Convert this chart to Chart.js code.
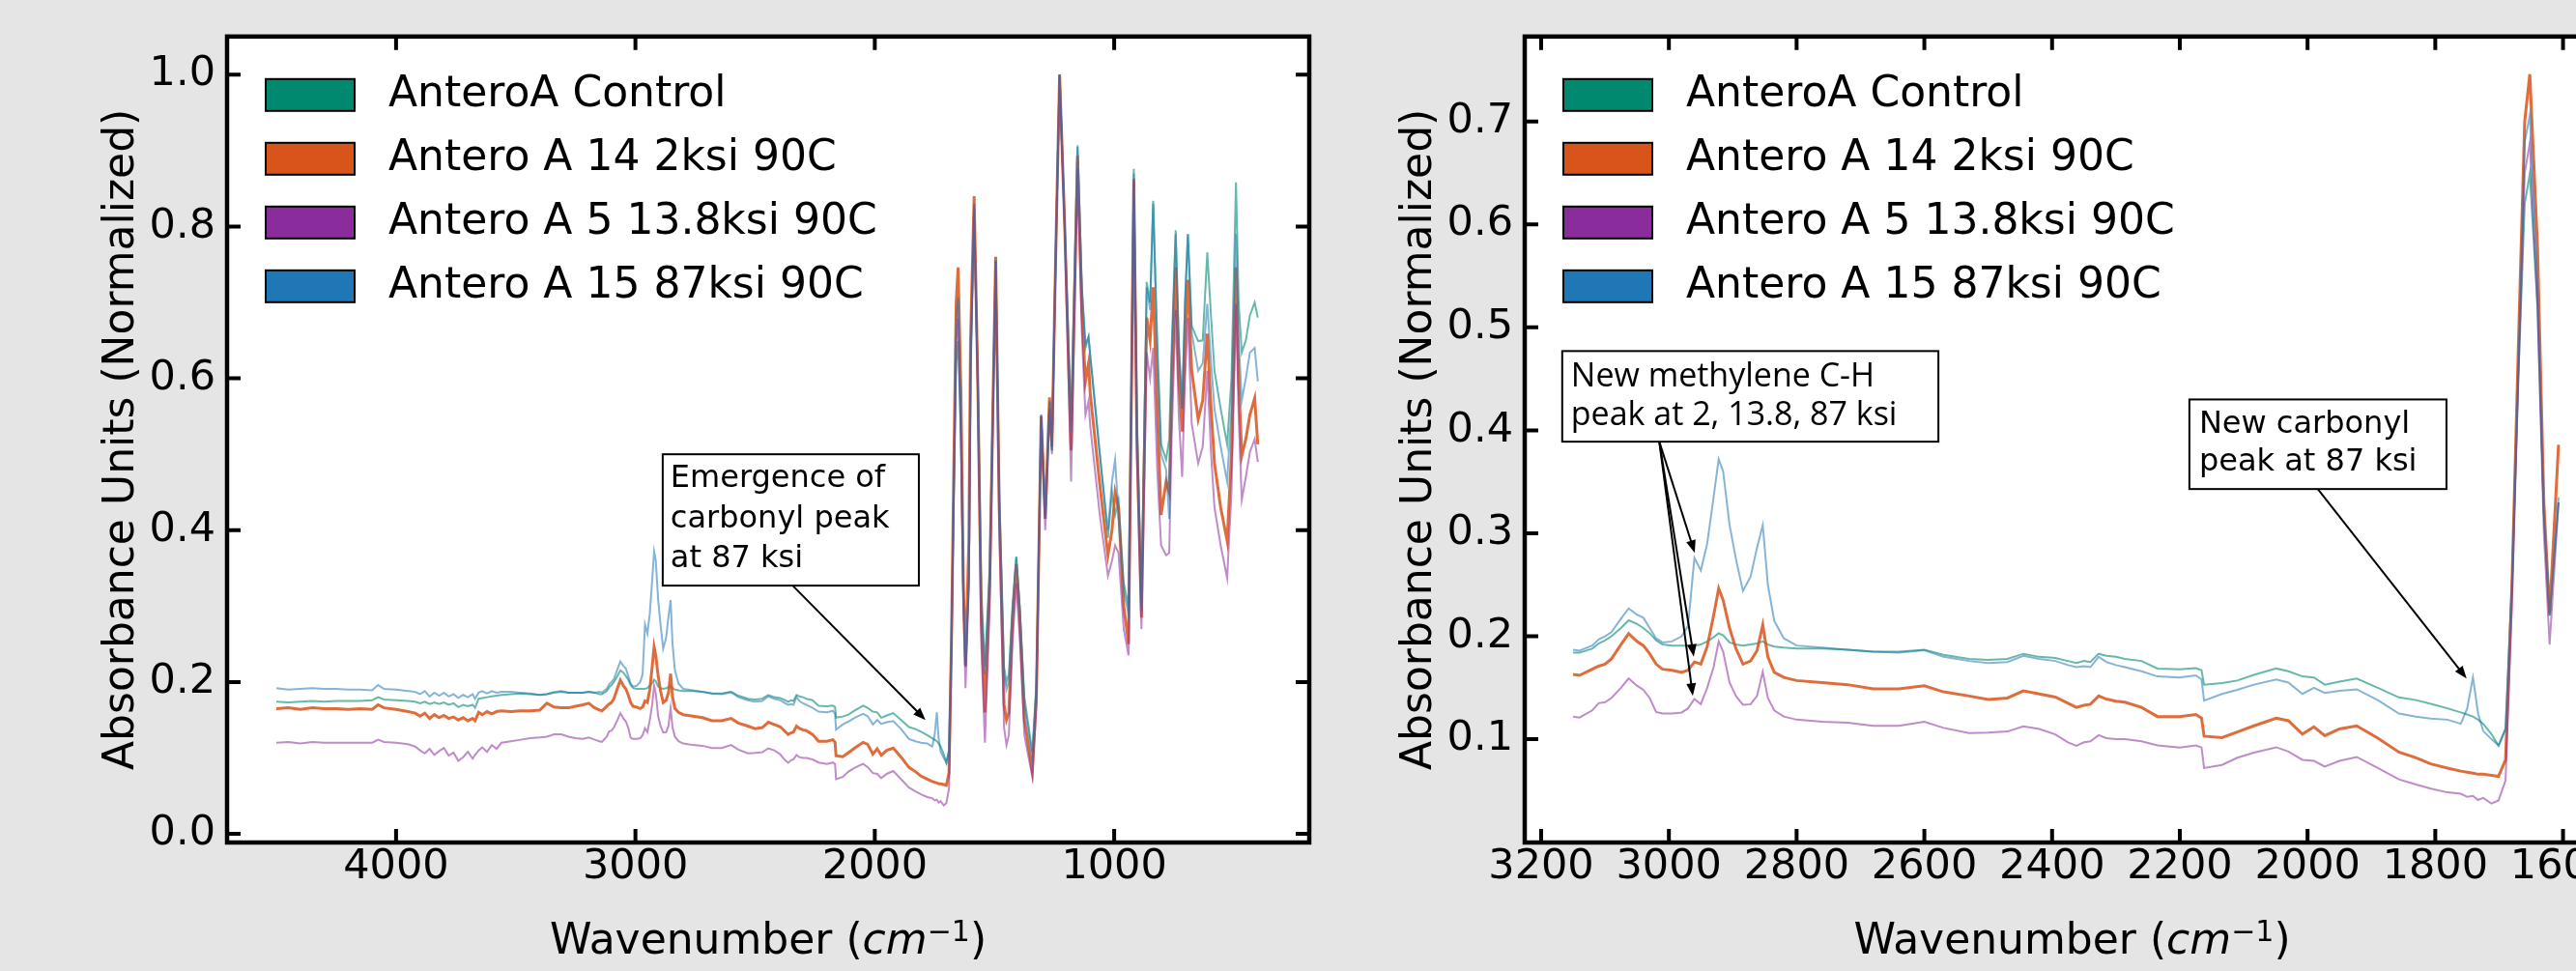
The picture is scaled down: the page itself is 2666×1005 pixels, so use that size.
<!DOCTYPE html>
<html>
<head>
<meta charset="utf-8">
<script src="https://cdn.jsdelivr.net/npm/chart.js@4"></script>
<style>
  html, body { margin: 0; padding: 0; background: #e5e5e5; overflow: hidden; width: 2666px; height: 1005px; }
  .panel { position: absolute; top: 0; height: 1005px; width: 1400px; }
  #left { left: 0; }
  #right { left: 1400px; }
</style>
</head>
<body>
<div class="panel" id="left"><canvas id="leftChart"></canvas></div>
<div class="panel" id="right"><canvas id="rightChart"></canvas></div>
<script>
// FTIR spectra, values
const wavenumber = [
  4500, 4450, 4400, 4350, 4300, 4250, 4200, 4150, 4100, 4075, 4050, 4000,
  3950, 3920, 3900, 3880, 3860, 3840, 3820, 3800, 3780, 3760, 3740, 3720, 3700, 3680, 3670, 3655, 3640, 3620, 3600, 3580, 3560, 3520, 3480, 3440, 3400, 3370, 3340, 3310, 3280, 3250, 3220, 3195, 3170, 3150,
  3140, 3120, 3110, 3100, 3090, 3075, 3063, 3050, 3040, 3030, 3020, 3010, 2995, 2980, 2970, 2960, 2950, 2940, 2930, 2922, 2915, 2905, 2895, 2884, 2872, 2862, 2853, 2845, 2835, 2820, 2800,
  2760, 2720, 2680, 2640, 2600, 2570, 2530, 2500, 2470, 2445, 2420, 2395, 2375, 2362, 2350, 2340, 2327, 2315, 2300, 2286, 2260, 2235, 2200, 2175, 2166, 2162, 2134, 2110, 2084, 2049, 2030, 2008, 1990, 1973, 1950, 1923, 1890, 1857, 1830, 1807, 1781, 1760, 1750, 1741, 1733, 1725, 1712, 1701,
  1690, 1680, 1670, 1660, 1652, 1640, 1630, 1621, 1607, 1600, 1585, 1570, 1555, 1540, 1520, 1495, 1480, 1460, 1450, 1440, 1425, 1409, 1395, 1375, 1342, 1325, 1305, 1288, 1270, 1260, 1245, 1228, 1207, 1180, 1153, 1135, 1120, 1107, 1100, 1060, 1026, 1009, 996, 982, 960, 940, 928, 918, 905, 886, 864, 850, 837, 820, 804, 783, 770, 760, 743, 730, 716, 704, 692, 676, 649, 630, 611, 595, 581, 555, 528, 510, 491, 480, 467, 450, 433, 413, 400
];

const controlA = [
  .174, .173, .174, .175, .174, .175, .175, .175, .176, .180, .177, .176,
  .175, .174, .172, .174, .171, .173, .171, .173, .170, .172, .167, .170, .168, .170, .166, .178, .179, .180, .181, .182, .183, .184, .185, .184, .183, .184, .186, .187, .186, .186, .186, .187, .186, .184,
  .184, .188, .193, .196, .200, .208, .2155, .212, .208, .203, .196, .192, .191, .191, .191, .191, .192, .195, .199, .203, .201, .194, .192, .191, .192, .193, .195, .192, .190, .189, .188,
  .188, .187, .185, .185, .187, .182, .178, .177, .178, .183, .180, .179, .176, .174, .176, .175, .183, .181, .180, .178, .176, .1687, .168, .169, .167, .153, .1545, .157, .1625, .1687, .166, .161, .160, .153, .156, .159, .150, .1406, .138, .1344, .130, .126, .124, .122, .119, .115, .105, .0937,
  .110, .250, .450, .620, .649, .520, .320, .220, .330, .600, .820, .600, .320, .220, .350, .755, .450, .220, .200, .210, .300, .365, .300, .180, .107, .200, .550, .420, .570, .505, .750, 1.000, .805, .540, .905, .720, .640, .655, .630, .500, .390, .450, .420, .440, .330, .300, .600, .876, .550, .300, .727, .700, .834, .650, .513, .493, .520, .640, .795, .650, .560, .700, .790, .669, .649, .650, .766, .680, .610, .560, .513, .600, .858, .700, .634, .650, .683, .700, .680
];

const antero14 = [
  .165, .166, .164, .166, .165, .165, .164, .165, .164, .170, .166, .164,
  .161, .159, .155, .159, .152, .157, .153, .156, .152, .154, .150, .153, .149, .152, .149, .160, .157, .161, .158, .161, .162, .161, .162, .162, .163, .172, .167, .166, .166, .168, .170, .172, .166, .163,
  .162, .168, .171, .173, .178, .192, .2025, .195, .191, .183, .173, .168, .167, .165, .167, .175, .173, .190, .220, .2465, .235, .208, .188, .173, .176, .186, .211, .180, .165, .160, .157,
  .155, .153, .149, .149, .152, .146, .142, .1385, .140, .147, .144, .141, .135, .131, .133, .134, .142, .139, .137, .136, .131, .122, .122, .124, .1205, .103, .1016, .107, .113, .1205, .118, .105, .112, .1035, .110, .113, .101, .0875, .082, .076, .072, .069, .068, .067, .066, .066, .065, .064,
  .080, .250, .480, .700, .746, .580, .330, .222, .386, .650, .840, .600, .280, .160, .330, .760, .430, .170, .150, .160, .280, .355, .290, .150, .083, .180, .550, .415, .575, .510, .750, 1.000, .805, .505, .893, .690, .596, .620, .580, .460, .367, .400, .450, .430, .300, .250, .580, .863, .520, .285, .680, .650, .720, .560, .420, .464, .450, .580, .746, .600, .530, .650, .730, .610, .546, .571, .659, .560, .488, .430, .386, .500, .746, .600, .498, .520, .552, .574, .513
];

const antero5 = [
  .120, .121, .119, .121, .120, .120, .120, .120, .120, .124, .121, .120,
  .118, .115, .110, .106, .112, .104, .109, .113, .103, .107, .096, .101, .108, .099, .104, .110, .114, .108, .117, .112, .120, .122, .124, .126, .127, .128, .131, .131, .128, .126, .125, .127, .124, .122,
  .121, .128, .135, .136, .140, .150, .159, .152, .148, .140, .1265, .125, .125, .126, .130, .139, .134, .150, .170, .195, .185, .155, .142, .1335, .134, .142, .1655, .140, .128, .122, .119,
  .117, .116, .113, .113, .117, .111, .106, .1065, .1075, .1125, .110, .1047, .097, .0937, .097, .098, .104, .101, .100, .100, .098, .094, .092, .094, .092, .072, .075, .082, .087, .0922, .088, .080, .079, .0734, .079, .0828, .072, .061, .056, .052, .0484, .047, .044, .045, .041, .043, .0375, .0406,
  .060, .230, .450, .650, .679, .520, .300, .192, .330, .620, .830, .590, .250, .120, .300, .755, .400, .140, .117, .130, .250, .330, .260, .130, .075, .170, .552, .400, .560, .500, .750, 1.000, .800, .464, .876, .660, .552, .570, .537, .420, .340, .360, .380, .370, .270, .235, .560, .860, .500, .270, .634, .600, .640, .480, .380, .367, .370, .520, .690, .550, .470, .600, .680, .540, .488, .510, .610, .500, .430, .380, .337, .450, .698, .550, .440, .470, .503, .520, .490
];

const antero15 = [
  .192, .190, .191, .192, .191, .191, .190, .190, .189, .196, .191, .190,
  .188, .187, .184, .188, .181, .186, .182, .186, .181, .184, .179, .183, .180, .184, .178, .186, .188, .185, .188, .186, .187, .187, .186, .185, .183, .184, .187, .188, .186, .186, .186, .187, .186, .187,
  .186, .191, .197, .200, .204, .217, .227, .221, .218, .208, .198, .194, .195, .200, .210, .276, .264, .290, .335, .372, .360, .308, .275, .244, .258, .286, .308, .250, .215, .198, .191,
  .189, .187, .185, .184, .1865, .180, .176, .174, .175, .181, .178, .176, .172, .170, .171, .170, .180, .175, .172, .170, .166, .161, .160, .162, .158, .1375, .144, .148, .153, .158, .155, .144, .150, .145, .147, .1485, .138, .125, .122, .120, .119, .115, .130, .160, .125, .108, .100, .094,
  .110, .250, .460, .680, .706, .540, .320, .220, .335, .610, .825, .600, .300, .210, .340, .755, .440, .210, .190, .200, .290, .365, .300, .170, .100, .190, .552, .415, .570, .505, .750, 1.000, .805, .530, .907, .720, .645, .655, .630, .500, .400, .464, .493, .420, .320, .290, .590, .870, .540, .295, .720, .690, .830, .630, .500, .480, .415, .620, .790, .640, .560, .700, .790, .660, .610, .620, .698, .620, .560, .510, .464, .560, .790, .650, .571, .600, .634, .640, .596
];

const seriesNames = ['AnteroA Control', 'Antero A 14 2ksi 90C', 'Antero A 5 13.8ksi 90C', 'Antero A 15 87ksi 90C'];
const seriesValues = [controlA, antero14, antero5, antero15];

const leftXTicks = [4000, 3000, 2000, 1000];
const leftYTicks = [0.0, 0.2, 0.4, 0.6, 0.8, 1.0];
const rightXTicks = [3200, 3000, 2800, 2600, 2400, 2200, 2000, 1800, 1600];
const rightYTicks = [0.1, 0.2, 0.3, 0.4, 0.5, 0.6, 0.7];
const zoomRange = [1605, 3150];   // wavenumbers shown in the right panel

const patchColors = ['#00896f', '#d9541a', '#8b2c9c', '#2077b5'];
const lineColors = ['rgba(0,137,111,0.6)', 'rgba(217,84,26,0.85)', 'rgba(139,44,156,0.55)', 'rgba(32,119,181,0.55)'];
const lineWidths = [2, 3, 2, 2];

const FONT = 'DejaVu Sans';
Chart.defaults.font.family = FONT;
Chart.defaults.color = '#000';

function makeDatasets(lo, hi) {
  return seriesNames.map((name, i) => ({
    label: name,
    data: wavenumber.map((w, k) => ({ x: w, y: seriesValues[i][k] })).filter(p => p.x >= lo && p.x <= hi),
    borderColor: lineColors[i],
    backgroundColor: patchColors[i],
    borderWidth: lineWidths[i],
    pointRadius: 0,
    tension: 0,
    fill: false,
    order: seriesNames.length - i
  }));
}

// white plot area, black box and inward ticks on all four sides
const frame = {
  id: 'frame',
  beforeDraw(chart) {
    const { ctx, chartArea: a } = chart;
    ctx.save();
    ctx.fillStyle = '#fff';
    ctx.fillRect(a.left, a.top, a.right - a.left, a.bottom - a.top);
    ctx.restore();
  },
  afterDraw(chart) {
    const { ctx, chartArea: a, scales } = chart;
    const len = 14;
    ctx.save();
    ctx.strokeStyle = '#000';
    ctx.lineWidth = 4;
    ctx.beginPath();
    scales.x.ticks.forEach(t => {
      const px = scales.x.getPixelForValue(t.value);
      ctx.moveTo(px, a.bottom); ctx.lineTo(px, a.bottom - len);
      ctx.moveTo(px, a.top); ctx.lineTo(px, a.top + len);
    });
    scales.y.ticks.forEach(t => {
      const py = scales.y.getPixelForValue(t.value);
      ctx.moveTo(a.left, py); ctx.lineTo(a.left + len, py);
      ctx.moveTo(a.right, py); ctx.lineTo(a.right - len, py);
    });
    ctx.stroke();
    ctx.lineWidth = 4.5;
    ctx.strokeRect(a.left, a.top, a.right - a.left, a.bottom - a.top);
    ctx.restore();
  }
};

// legend with filled patches, top-left inside the axes
const patchLegend = {
  id: 'patchLegend',
  afterDatasetsDraw(chart) {
    const { ctx, chartArea: a } = chart;
    ctx.save();
    ctx.font = '44px "' + FONT + '"';
    ctx.textBaseline = 'middle';
    chart.data.datasets.forEach((ds, i) => {
      const x = a.left + 40, y = a.top + 44 + i * 66;
      ctx.fillStyle = ds.backgroundColor;
      ctx.fillRect(x, y, 92, 33);
      ctx.lineWidth = 2;
      ctx.strokeStyle = '#000';
      ctx.strokeRect(x, y, 92, 33);
      ctx.fillStyle = '#000';
      ctx.fillText(ds.label, x + 127, y + 17);
    });
    ctx.restore();
  }
};

// x title with mathtext-like cm^-1
const xTitle = {
  id: 'xTitle',
  afterDraw(chart) {
    const { ctx, chartArea: a } = chart;
    const parts = [
      { t: 'Wavenumber (', f: '44px "' + FONT + '"', dy: 0 },
      { t: 'cm', f: 'italic 44px "' + FONT + '"', dy: 0 },
      { t: '\u22121', f: '30px "' + FONT + '"', dy: -13 },
      { t: ')', f: '44px "' + FONT + '"', dy: 0 }
    ];
    ctx.save();
    ctx.fillStyle = '#000';
    ctx.textBaseline = 'alphabetic';
    let total = 0;
    parts.forEach(p => { ctx.font = p.f; p.w = ctx.measureText(p.t).width; total += p.w; });
    let x = (a.left + a.right) / 2 - total / 2;
    const base = chart.height - 18;
    parts.forEach(p => { ctx.font = p.f; ctx.fillText(p.t, x, base + p.dy); x += p.w; });
    ctx.restore();
  }
};

// boxed notes with arrows, anchored in data coordinates
const notes = {
  id: 'notes',
  afterDatasetsDraw(chart, args, opts) {
    const { ctx, scales: { x, y } } = chart;
    (opts.items || []).forEach(n => {
      const x0 = x.getPixelForValue(n.box[0]), y0 = y.getPixelForValue(n.box[1]);
      const x1 = x.getPixelForValue(n.box[2]), y1 = y.getPixelForValue(n.box[3]);
      ctx.save();
      ctx.strokeStyle = '#000';
      ctx.fillStyle = '#000';
      ctx.lineWidth = 2;
      n.arrows.forEach(([fx, fy, tx, ty]) => {
        const sx = x.getPixelForValue(fx), sy = y.getPixelForValue(fy);
        const ex = x.getPixelForValue(tx), ey = y.getPixelForValue(ty);
        const ang = Math.atan2(ey - sy, ex - sx);
        ctx.beginPath();
        ctx.moveTo(sx, sy);
        ctx.lineTo(ex - 10 * Math.cos(ang), ey - 10 * Math.sin(ang));
        ctx.stroke();
        ctx.beginPath();
        ctx.moveTo(ex, ey);
        ctx.lineTo(ex - 13 * Math.cos(ang) + 5 * Math.sin(ang), ey - 13 * Math.sin(ang) - 5 * Math.cos(ang));
        ctx.lineTo(ex - 13 * Math.cos(ang) - 5 * Math.sin(ang), ey - 13 * Math.sin(ang) + 5 * Math.cos(ang));
        ctx.closePath();
        ctx.fill();
      });
      ctx.fillStyle = '#fff';
      ctx.fillRect(x0, y0, x1 - x0, y1 - y0);
      ctx.strokeRect(x0, y0, x1 - x0, y1 - y0);
      ctx.fillStyle = '#000';
      ctx.font = n.font;
      ctx.textBaseline = 'middle';
      n.lines.forEach((s, k) => ctx.fillText(s, x0 + n.dx, y0 + n.dy + k * n.gap));
      ctx.restore();
    });
  }
};

function makeOptions(cfg) {
  const tickFont = { family: FONT, size: 43 };
  return {
    responsive: true,
    maintainAspectRatio: false,
    animation: false,
    events: [],
    layout: { padding: { top: 37, right: cfg.padRight, bottom: 0, left: 0 } },
    scales: {
      x: {
        type: 'linear', reverse: true, min: cfg.xMin, max: cfg.xMax,
        afterFit: s => { s.height = 133; },
        afterBuildTicks: s => { s.ticks = cfg.xTicks.map(v => ({ value: v })); },
        grid: { display: false, drawTicks: false },
        border: { display: false },
        ticks: { font: tickFont, color: '#000', padding: 0, maxRotation: 0, autoSkip: false, callback: v => String(v) }
      },
      y: {
        type: 'linear', min: cfg.yMin, max: cfg.yMax,
        afterFit: s => { s.width = cfg.yWidth; },
        afterBuildTicks: s => { s.ticks = cfg.yTicks.map(v => ({ value: v })); },
        grid: { display: false, drawTicks: false },
        border: { display: false },
        ticks: { font: tickFont, color: '#000', padding: 12, autoSkip: false, callback: v => v.toFixed(1) },
        title: {
          display: true, text: 'Absorbance Units (Normalized)', color: '#000',
          font: { family: FONT, size: 44 }, padding: { top: cfg.yTitlePad, bottom: 0 }
        }
      }
    },
    plugins: {
      legend: { display: false },
      tooltip: { enabled: false },
      notes: { items: cfg.notes }
    }
  };
}

new Chart(document.getElementById('leftChart'), {
  type: 'line',
  data: { datasets: makeDatasets(0, 5000) },
  options: makeOptions({
    xMin: 185, xMax: 4706, yMin: -0.0114, yMax: 1.0503,
    xTicks: leftXTicks, yTicks: leftYTicks,
    padRight: 45, yWidth: 235, yTitlePad: 100,
    notes: [{
      box: [2886, 0.500, 1816, 0.327],
      lines: ['Emergence of', 'carbonyl peak', 'at 87 ksi'],
      font: '32px "DejaVu Sans"', dx: 8, dy: 26, gap: 41.5,
      arrows: [[2343, 0.327, 1788, 0.150]]
    }]
  }),
  plugins: [frame, notes, patchLegend, xTitle]
});

new Chart(document.getElementById('rightChart'), {
  type: 'line',
  data: { datasets: makeDatasets(zoomRange[0], zoomRange[1]) },
  options: makeOptions({
    xMin: 1511.6, xMax: 3225.7, yMin: -0.0003, yMax: 0.7825,
    xTicks: rightXTicks, yTicks: rightYTicks,
    padRight: 89, yWidth: 178, yTitlePad: 43,
    notes: [{
      box: [3167, 0.477, 2578, 0.389],
      lines: ['New methylene C-H', 'peak at 2, 13.8, 87 ksi'],
      font: '34px "Open Sans"', dx: 9, dy: 27, gap: 40,
      arrows: [[3015, 0.389, 2959.5, 0.281], [3015, 0.389, 2961, 0.180], [3015, 0.389, 2962.5, 0.142]]
    }, {
      box: [2185, 0.430, 1782.5, 0.343],
      lines: ['New carbonyl', 'peak at 87 ksi'],
      font: '32px "DejaVu Sans"', dx: 10, dy: 26, gap: 39,
      arrows: [[1984, 0.343, 1751, 0.159]]
    }]
  }),
  plugins: [frame, notes, patchLegend, xTitle]
});
</script>
</body>
</html>
